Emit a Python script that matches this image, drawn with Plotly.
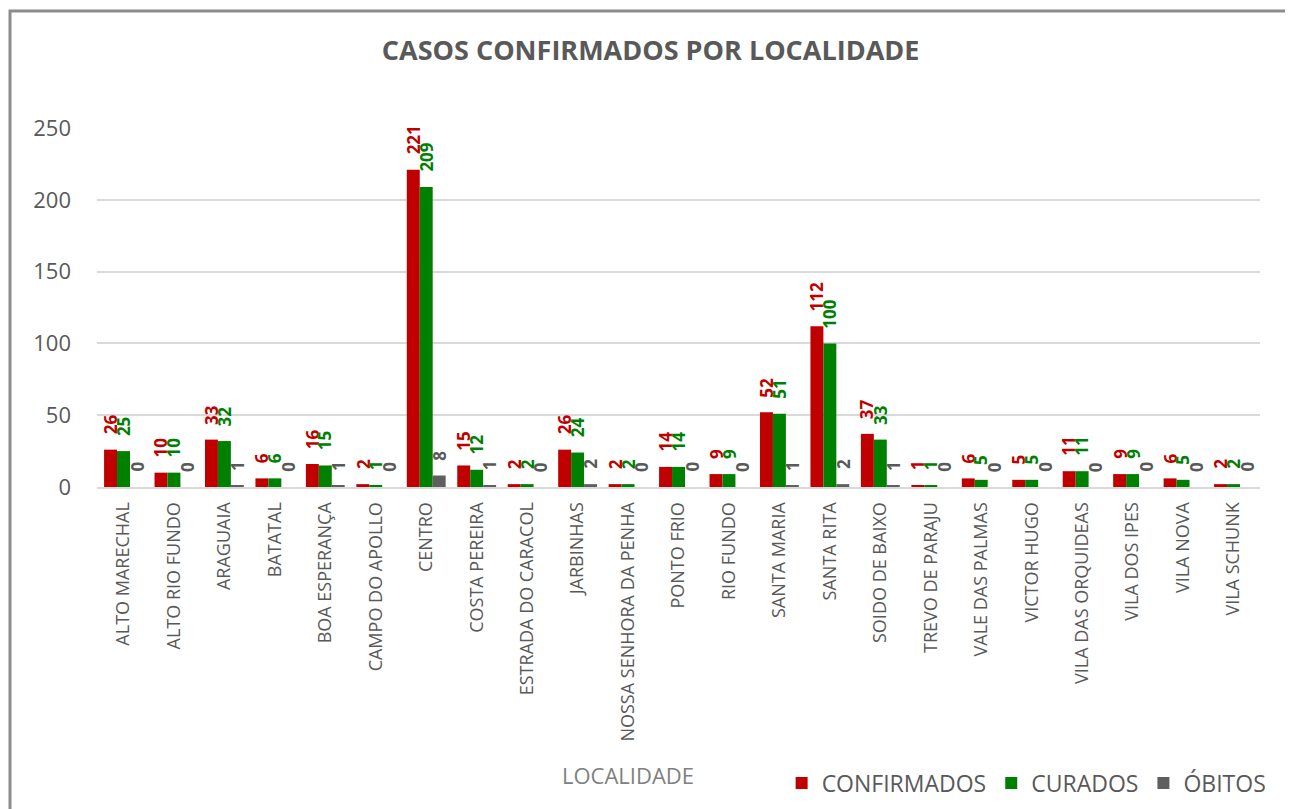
import plotly.graph_objects as go

localidades = [
    "ALTO MARECHAL", "ALTO RIO FUNDO", "ARAGUAIA", "BATATAL", "BOA ESPERANÇA",
    "CAMPO DO APOLLO", "CENTRO", "COSTA PEREIRA", "ESTRADA DO CARACOL", "JARBINHAS",
    "NOSSA SENHORA DA PENHA", "PONTO FRIO", "RIO FUNDO", "SANTA MARIA", "SANTA RITA",
    "SOIDO DE BAIXO", "TREVO DE PARAJU", "VALE DAS PALMAS", "VICTOR HUGO",
    "VILA DAS ORQUIDEAS", "VILA DOS IPES", "VILA NOVA", "VILA SCHUNK",
]
confirmados = [26, 10, 33, 6, 16, 2, 221, 15, 2, 26, 2, 14, 9, 52, 112, 37, 1, 6, 5, 11, 9, 6, 2]
curados = [25, 10, 32, 6, 15, 1, 209, 12, 2, 24, 2, 14, 9, 51, 100, 33, 1, 5, 5, 11, 9, 5, 2]
obitos = [0, 0, 1, 0, 1, 0, 8, 1, 0, 2, 0, 0, 0, 1, 2, 1, 0, 0, 0, 0, 0, 0, 0]

FONT = "Open Sans"
GREY = "#595959"

# name, values, bar colour, label colour
series = [
    ("CONFIRMADOS", confirmados, "#C00000", "#C00000"),
    ("CURADOS", curados, "#008000", "#008000"),
    ("ÓBITOS", obitos, "#5F5F5F", GREY),
]

fig = go.Figure()
for name, vals, color, _ in series:
    fig.add_trace(go.Bar(
        x=localidades,
        y=vals,
        name=name,
        marker_color=color,
        marker_line_width=0,
    ))

# rotated data labels above each bar (Excel style)
bar_px = 13
for i, (name, vals, _, lab_color) in enumerate(series):
    shift = (i - 1) * bar_px
    for cat, v in zip(localidades, vals):
        fig.add_annotation(
            x=cat, y=v,
            xref="x", yref="y",
            text=f"<b>{v}</b>",
            textangle=-90,
            showarrow=False,
            xanchor="center", yanchor="bottom",
            xshift=shift, yshift=13,
            font=dict(family=FONT, size=17, color=lab_color),
        )

fig.update_layout(
    width=1293,
    height=809,
    barmode="group",
    bargap=0.23,
    bargroupgap=0,
    plot_bgcolor="white",
    paper_bgcolor="white",
    margin=dict(l=89, r=41, t=120, b=330),
    title=dict(
        text="<b>CASOS CONFIRMADOS POR LOCALIDADE</b>",
        x=0.497, xanchor="center", y=0.948, yanchor="middle",
        font=dict(family=FONT, size=27, color=GREY),
    ),
    font=dict(family=FONT, color=GREY),
    legend=dict(
        orientation="h",
        x=1.01, xanchor="right",
        y=-0.8245, yanchor="middle",
        font=dict(family=FONT, size=23, color=GREY),
        itemwidth=30,
        traceorder="normal",
    ),
    showlegend=True,
)

fig.update_xaxes(
    tickangle=-90,
    tickfont=dict(family=FONT, size=18, color=GREY),
    showline=True, linecolor="#D9D9D9", linewidth=2,
    showgrid=False,
    ticks="",
    ticklabelstandoff=6,
)
fig.update_yaxes(
    range=[0, 250],
    dtick=50,
    tickfont=dict(family=FONT, size=22, color=GREY),
    gridcolor="#D9D9D9", gridwidth=2,
    showline=False,
    zeroline=False,
    ticklabelstandoff=25,
)

# x axis title placed as annotation (Excel puts it left of centre)
fig.add_annotation(
    text="LOCALIDADE",
    xref="paper", yref="paper",
    x=0.4566, y=-0.802,
    xanchor="center", yanchor="middle",
    showarrow=False,
    font=dict(family=FONT, size=22, color="#808080"),
)

# outer chart border
fig.add_shape(
    type="rect",
    xref="paper", yref="paper",
    x0=-0.0748, x1=1.0258, y0=1.326, y1=-1.0,
    line=dict(color="#8C8C8C", width=3),
    layer="below",
)

fig.write_html("out.html")
